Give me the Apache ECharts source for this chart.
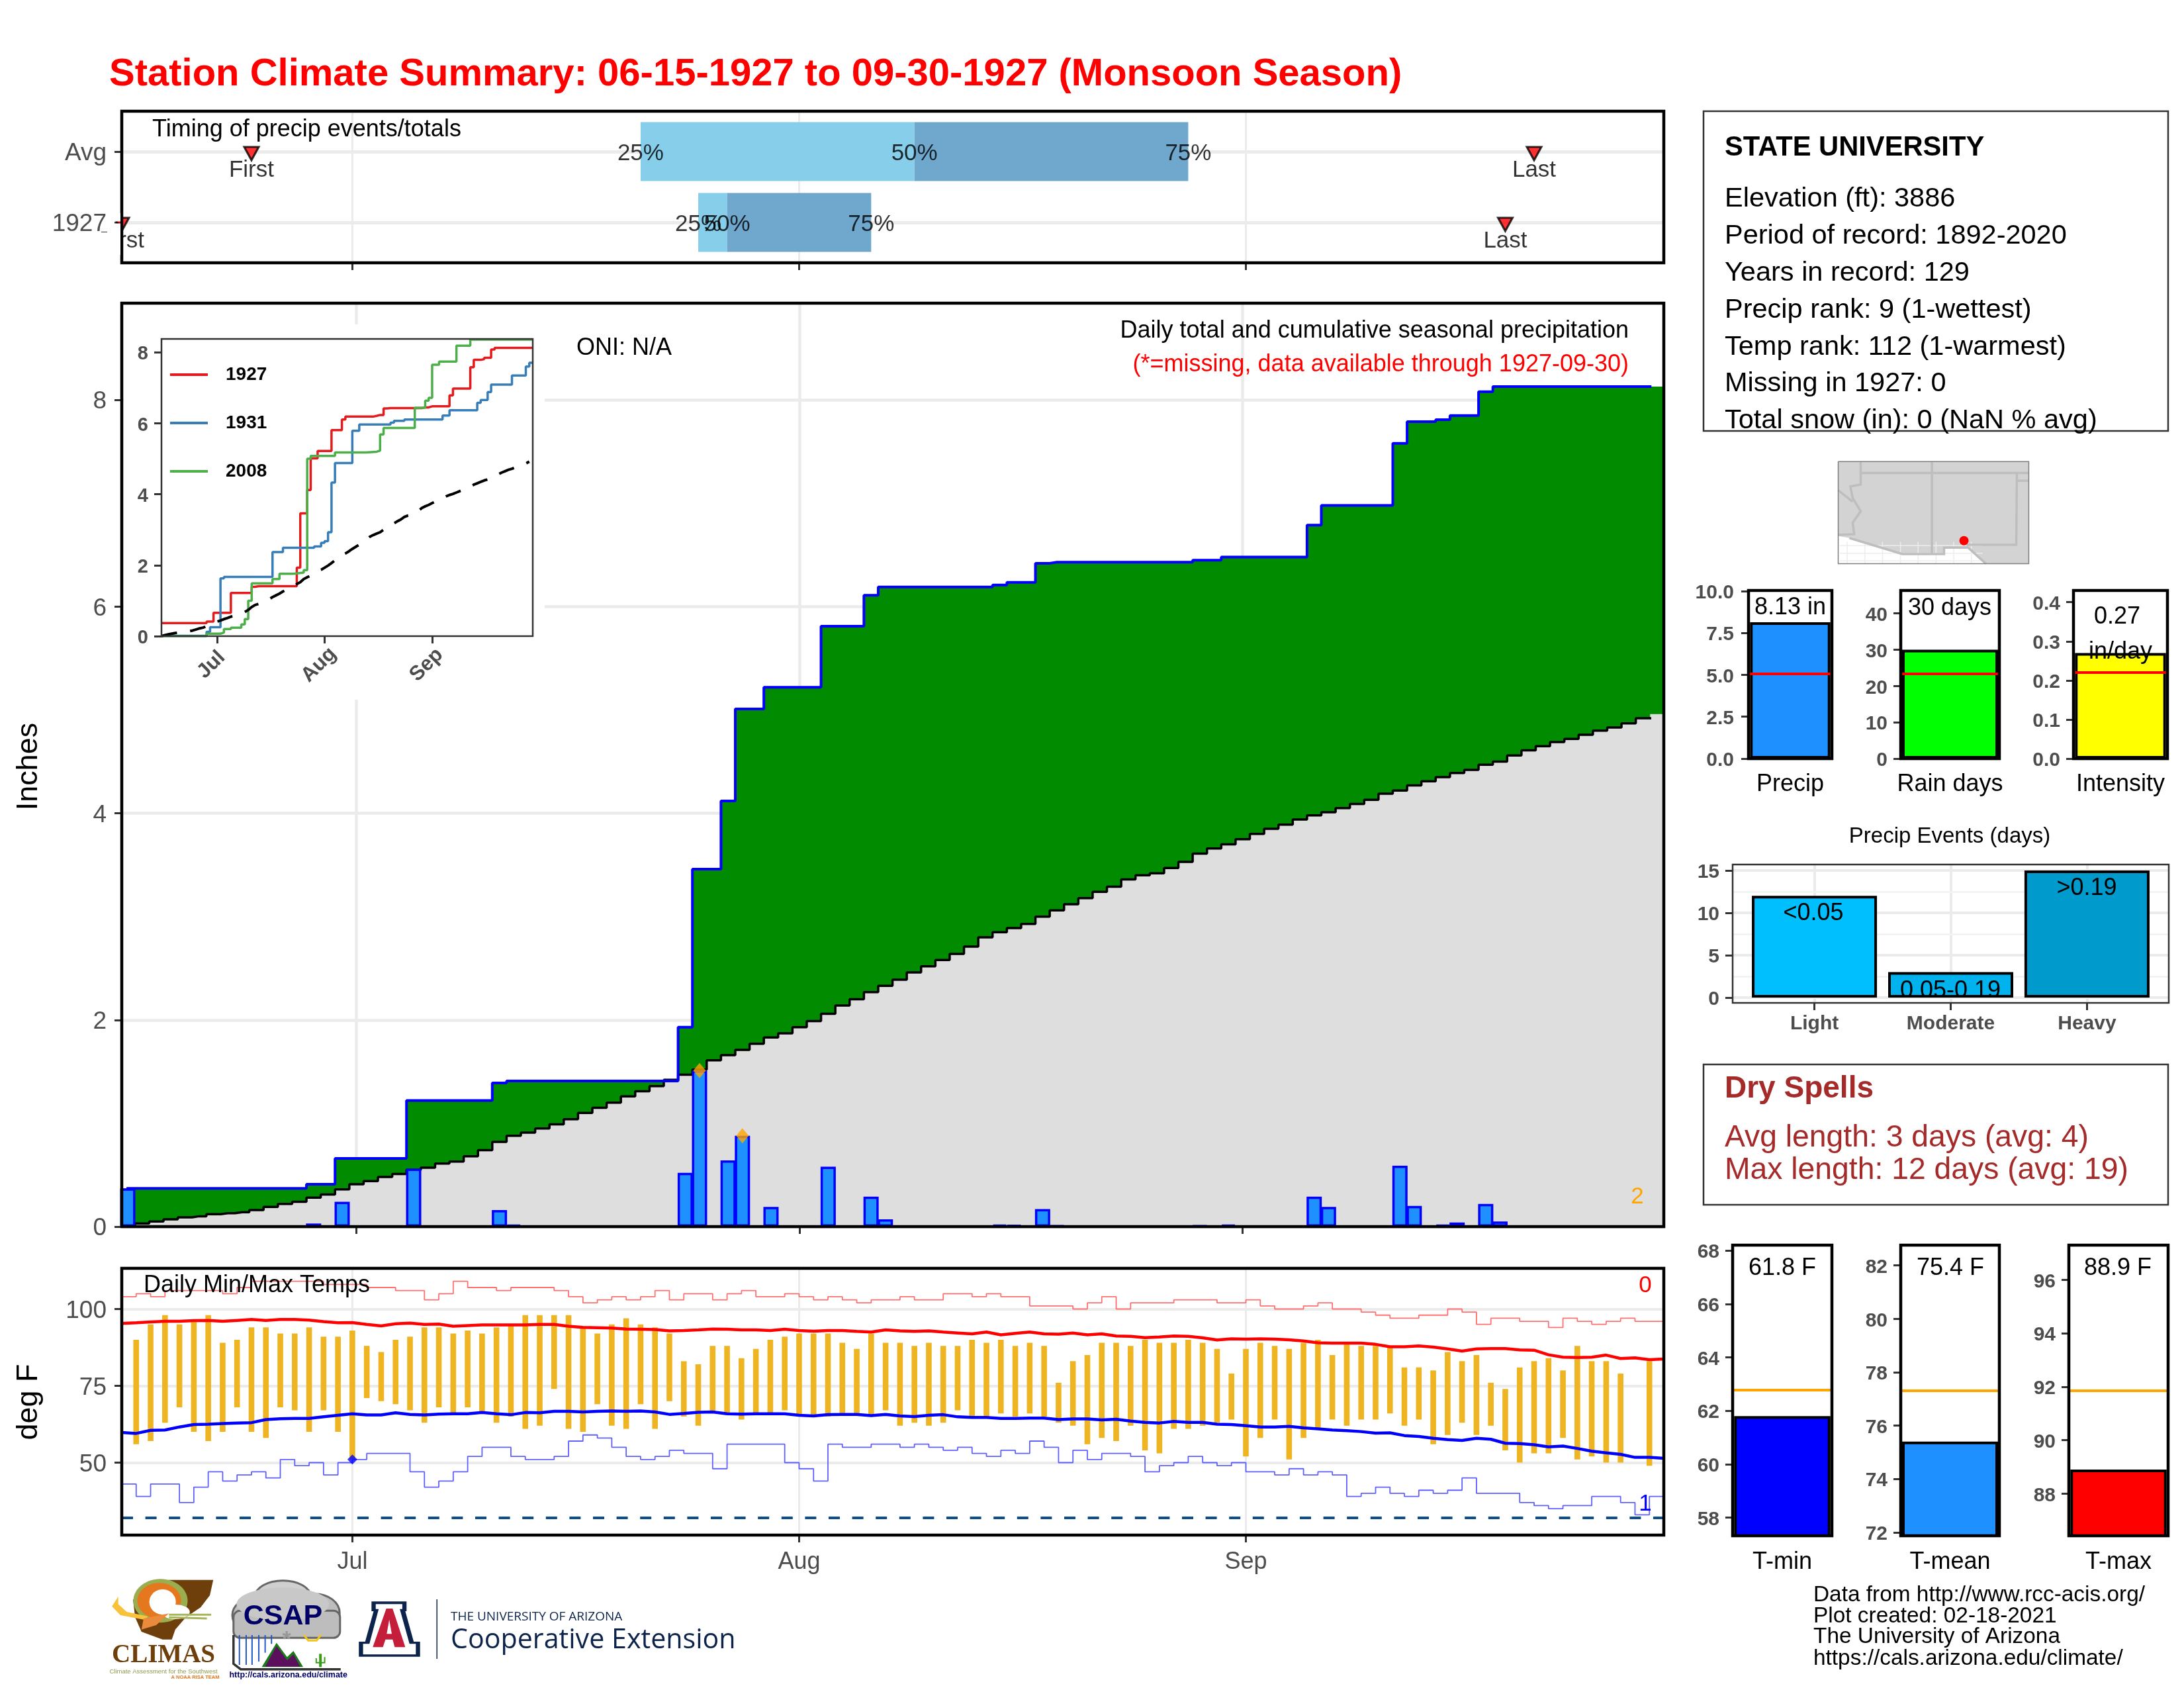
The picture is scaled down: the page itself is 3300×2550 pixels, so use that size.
<!DOCTYPE html>
<html>
<head>
<meta charset="utf-8">
<title>Station Climate Summary</title>
<style>html,body{margin:0;padding:0;background:#fff}#chart{width:3300px;height:2550px}</style>
<script src="https://cdn.jsdelivr.net/npm/echarts@6/dist/echarts.min.js"></script>
</head>
<body>
<div id="chart"></div>
<script>
// day index: 0 = Jun 15, 107 = Sep 30
const monthDays = [16, 47, 78];
const monthNames = ['Jul', 'Aug', 'Sep'];

const cumPrecip = [
  .37,.37,.37,.37,.37,.37,.37,.37,.37,.37,.37,.37,.37,.41,.41,.66,.66,.66,.66,.66,
  1.22,1.22,1.22,1.22,1.22,1.22,1.39,1.41,1.41,1.41,1.41,1.41,1.41,1.41,1.41,1.41,1.41,1.41,1.41,1.93,
  3.46,3.46,4.12,5.01,5.01,5.22,5.22,5.22,5.22,5.81,5.81,5.81,6.11,6.19,6.19,6.19,6.19,6.19,6.19,6.19,
  6.19,6.21,6.235,6.235,6.42,6.43,6.43,6.43,6.43,6.43,6.43,6.43,6.43,6.43,6.43,6.45,6.45,6.48,6.48,6.48,
  6.48,6.48,6.48,6.79,6.98,6.98,6.98,6.98,6.98,7.58,7.79,7.79,7.81,7.85,7.85,8.08,8.13,8.13,8.13,8.13,
  8.13,8.13,8.13,8.13,8.13,8.13,8.13,8.13
];
const normalPrecip = [
  0,.03,.05,.07,.09,.10,.12,.13,.14,.16,.19,.22,.24,.28,.31,.36,.41,.44,.48,.51,
  .55,.57,.61,.63,.68,.74,.82,.88,.91,.95,.99,1.04,1.10,1.15,1.20,1.26,1.31,1.36,1.42,1.47,
  1.52,1.61,1.66,1.71,1.77,1.83,1.87,1.93,1.99,2.06,2.14,2.20,2.27,2.33,2.39,2.46,2.52,2.58,2.64,2.71,
  2.80,2.85,2.89,2.93,3.00,3.06,3.12,3.18,3.24,3.29,3.36,3.40,3.42,3.47,3.53,3.61,3.66,3.70,3.75,3.80,
  3.85,3.89,3.94,3.98,4.01,4.05,4.09,4.13,4.19,4.22,4.27,4.31,4.35,4.39,4.42,4.47,4.50,4.56,4.61,4.65,
  4.69,4.72,4.76,4.80,4.83,4.87,4.92,4.96
];
const rainDays = [0,13,15,20,26,27,39,40,42,43,45,49,52,53,61,62,64,65,75,77,83,84,89,90,92,93,95,96];
const rainAmounts = [.37,.03,.24,.56,.16,.02,.52,1.51,.64,.88,.19,.58,.29,.07,.02,.015,.17,.01,.01,.02,.29,.19,.59,.2,.02,.04,.22,.05];
const recordRainDays = [40, 43];
const recordRainAmounts = [1.51, .88];

// change points of the other two years in the inset, [day, inches]
const steps1931 = [[0,.01],[13,.12],[14,.25],[17,1.63],[18,1.67],[32,2.37],[35,2.49],[44,2.53],[46,2.63],[47,2.68],[48,2.93],[49,4.33],[50,4.88],[55,5.79],[57,5.97],[66,6.02],[67,6.07],[70,6.11],[81,6.22],[83,6.37],[91,6.58],[92,6.66],[94,6.88],[95,7.09],[101,7.35],[105,7.6],[106,7.71],[107,7.71]];
const steps2008 = [[0,0],[13,.07],[17,.1],[18,.2],[20,.24],[23,.33],[24,.48],[25,1.0],[26,1.49],[32,1.61],[34,1.76],[38,1.79],[41,1.86],[42,5.0],[43,5.08],[50,5.18],[59,5.2],[62,5.23],[63,5.69],[64,5.87],[73,6.44],[76,6.64],[77,6.72],[78,7.65],[80,7.74],[85,8.19],[89,8.36],[107,8.36]];

const tempHigh = [
  null,90,95,98,95,96,98,89,90,94,94,92,92,94,91,91,93,88,86,90,
  91,94,94,92,93,92,94,95,98,98,98,98,94,92,95,97,95,94,92,83,
  82,88,88,84,87,90,91,92,92,92,89,87,92,89,89,88,89,88,88,90,
  89,90,88,89,88,76,83,85,89,89,88,90,89,89,90,89,87,79,87,89,
  88,87,89,90,85,89,88,88,88,81,81,80,86,83,85,76,74,81,83,84,
  80,88,83,83,79,null,83,null
];
const tempLow = [
  null,56,57,63,68,60,57,60,68,60,58,68,67,60,67,60,51,71,70,69,
  67,63,68,66,68,66,63,65,61,62,74,61,60,69,62,61,69,61,70,65,
  62,66,66,64,66,66,67,65,65,65,66,66,65,67,62,63,62,63,67,65,
  65,66,65,66,65,63,62,56,58,57,62,54,53,61,61,62,63,64,52,58,
  64,51,58,61,64,62,64,64,66,62,64,56,59,63,59,62,54,50,53,53,
  58,51,52,50,50,null,49,null
];
const recordHigh = [
  104,105,104,106,106,106,106,105,107,109,109,109,109,109,108,108,108,107,107,106,
  106,103,105,109,107,107,106,107,107,107,106,104,102,103,104,103,104,106,103,105,
  105,103,105,106,104,104,105,104,103,104,103,102,103,103,104,103,103,105,105,104,
  105,104,104,101,101,101,100,102,104,100,102,102,102,103,103,103,102,102,103,101,
  100,100,101,102,100,100,99,98,97,97,98,98,100,99,95,97,97,96,96,94,
  97,96,95,96,97,96,96,96
];
const recordLow = [
  43,39,43,43,37,42,47,44,46,47,45,51,49,50,46,50,51,53,53,53,
  47,42,44,47,52,55,55,52,51,51,52,57,59,58,55,52,51,52,54,53,
  53,48,56,56,56,56,50,48,44,56,55,55,56,56,55,56,55,54,55,53,
  52,54,53,57,55,50,54,51,53,53,52,47,49,50,52,50,49,50,47,47,
  46,48,46,47,46,39,40,42,40,39,41,40,41,45,40,40,40,37,36,35,
  36,36,39,39,37,33,39,39
];
const avgHigh = [
  95.3,95.5,95.8,96.0,96.0,96.2,96.3,96.0,96.3,96.6,96.3,96.6,96.6,96.4,95.9,95.5,95.6,95.0,94.5,95.2,
  95.4,95.0,95.1,94.4,94.6,94.8,94.8,94.8,94.8,95.0,95.0,94.4,94.0,93.9,93.8,93.5,93.4,93.3,92.9,93.0,
  93.2,93.5,93.4,93.2,93.2,93.0,93.4,93.0,92.8,93.0,93.0,92.7,92.5,93.2,92.9,92.7,92.9,92.5,92.2,91.9,
  92.5,91.6,92.1,92.5,91.9,91.8,92.2,91.6,91.9,91.2,91.1,90.7,90.9,91.2,91.1,90.6,89.9,90.3,90.2,90.3,
  90.2,90.0,89.6,89.0,88.9,88.9,88.9,88.5,87.7,87.7,88.0,87.6,87.0,86.3,87.0,87.1,87.1,86.7,86.6,85.1,
  84.3,84.2,84.3,85.0,83.9,84.1,83.5,83.7
];
const avgLow = [
  59.8,59.5,60.5,60.6,61.6,62.4,62.5,62.7,62.9,63.0,64.0,64.3,64.4,64.4,64.9,65.4,65.9,65.5,65.5,66.2,
  65.7,65.5,65.8,65.9,65.9,66.3,65.9,65.6,66.3,66.2,66.7,66.7,66.5,66.7,66.8,66.7,66.8,66.5,65.7,66.0,
  66.4,66.5,65.9,65.8,65.9,65.9,65.9,65.4,65.2,65.6,65.7,65.7,65.3,65.7,65.2,65.0,65.4,65.6,64.9,64.7,
  64.7,64.4,64.4,64.5,64.5,64.0,64.2,64.2,63.9,64.1,63.5,63.1,62.9,63.4,63.1,63.1,62.5,62.4,62.0,61.6,
  61.6,61.8,61.3,61.0,60.6,60.4,60.1,59.6,59.7,58.8,58.5,57.9,57.5,57.2,57.9,57.6,56.3,56.2,55.8,55.1,
  55.4,54.6,53.7,53.2,52.7,51.7,51.7,51.4
];

// quartile timing rows: row 1 = Avg, row 0 = 1927
const rowNames = ['1927', 'Avg'];
const quartiles1927 = [40, 42, 52];
const quartilesAvg = [36, 55, 74];
const firstLast1927 = [0, 96];
const firstLastAvg = [9, 98];

const precipSummary = {value: 8.13, normal: 5.08};
const rainSummary = {value: 30, normal: 23.4};
const intensitySummary = {value: 0.27, normal: 0.217};
const eventNames = ['Light', 'Moderate', 'Heavy'];
const eventCounts = [12, 3, 15];
const eventColors = ['#00BFFF', '#00B2EE', '#009ACD'];
const tMinSummary = {value: 61.8, normal: 62.77};
const tMeanSummary = {value: 75.4, normal: 77.32};
const tMaxSummary = {value: 88.9, normal: 91.86};

const FONT = '"Liberation Sans"';
const GREY = '#4D4D4D';
const GRIDC = '#EBEBEB';

const grids = [], xAxes = [], yAxes = [], series = [], graphics = [];

function axis(min, max, ticks, o) {
  o = o || {};
  const label = {
    show: o.labels !== false, customValues: ticks, fontSize: o.size || 37, color: GREY,
    fontWeight: o.weight || 'normal', margin: o.margin || 23, formatter: o.formatter,
    rotate: o.rotate || 0
  };
  if (o.label) Object.assign(label, o.label);
  return {
    type: 'value', min: min, max: max, z: o.z || 0,
    axisLine: {show: false, onZero: false},
    axisTick: {show: true, length: 11, lineStyle: {color: '#333', width: 3}, customValues: ticks},
    axisLabel: label,
    splitLine: {show: !!o.grid, lineStyle: {color: GRIDC, width: o.grid || 3}}
  };
}
// y tick labels sit about 3px under the tick; top alignment plus negative padding does that
function yLabel(size) {
  return {verticalAlign: 'top', padding: [3 - size / 2, 0, 0, 0]};
}

function panel(x, y, w, h, xa, ya, border) {
  border = border || {};
  grids.push({
    show: true, left: x, top: y, width: w, height: h, outerBoundsMode: 'none',
    backgroundColor: 'transparent', borderColor: border.color || '#000',
    borderWidth: border.width || 4.5, z: 10
  });
  const i = grids.length - 1;
  xa.gridIndex = i; ya.gridIndex = i;
  xAxes.push(xa); yAxes.push(ya);
  return i;
}

function add(i, s) { s.xAxisIndex = i; s.yAxisIndex = i; series.push(s); }

function text(x, y, str, size, o) {
  o = o || {};
  graphics.push({
    type: 'text', x: x, y: y + 3, rotation: o.rotation || 0, z: o.z || 20, silent: true,
    style: {
      text: str, fill: o.color || '#000', align: o.align || 'left', verticalAlign: 'middle',
      font: (o.weight || 'normal') + ' ' + size + 'px ' + (o.family || FONT)
    }
  });
}

function whiteRect(x, y, w, h, z) {
  graphics.push({type: 'rect', shape: {x: x, y: y, width: w, height: h}, style: {fill: '#fff'}, z: z, silent: true});
}

const monthLabel = v => monthNames[monthDays.indexOf(v)];
const pairs = arr => arr.map((v, d) => [d, v]);

/* ---------- timing panel ---------- */
const topIdx = panel(184, 168, 2330, 229,
  axis(0, 107, monthDays, {labels: false, grid: 3}),
  axis(-0.57, 1.57, [0, 1], {grid: 5, label: yLabel(37), formatter: v => rowNames[v]}));

function quartileBars(q, row) {
  return [[q[0], q[1], row], [q[1], q[2], row]];
}
add(topIdx, {
  type: 'custom', silent: true,
  data: quartileBars(quartilesAvg, 1).concat(quartileBars(quartiles1927, 0)),
  renderItem(params, api) {
    const a = api.coord([api.value(0), api.value(2) + 0.415]);
    const b = api.coord([api.value(1), api.value(2) - 0.415]);
    return {type: 'rect', shape: {x: a[0], y: a[1], width: b[0] - a[0], height: b[1] - a[1]},
      style: {fill: params.dataIndex % 2 ? '#6FA7CD' : '#87CEEB'}};
  }
});
add(topIdx, {
  type: 'scatter', symbol: 'triangle', symbolRotate: 180, symbolSize: [22, 20], symbolOffset: [0, 3], z: 3,
  itemStyle: {color: '#FF0000', borderColor: '#000', borderWidth: 3},
  data: [[firstLastAvg[0], 1], [firstLastAvg[1], 1], [firstLast1927[0], 0], [firstLast1927[1], 0]]
});
function rowLabels(dayList, row, names, dy) {
  return dayList.map((d, i) => ({value: [d, row], label: {formatter: names[i], offset: [0, dy]}}));
}
add(topIdx, {
  type: 'scatter', symbolSize: 1, z: 4, itemStyle: {color: 'transparent'},
  label: {show: true, position: 'inside', fontSize: 35, color: '#000'},
  data: rowLabels(quartilesAvg, 1, ['25%', '50%', '75%'], 3)
    .concat(rowLabels(quartiles1927, 0, ['25%', '50%', '75%'], 3))
    .concat(rowLabels(firstLastAvg, 1, ['First', 'Last'], 28))
    .concat(rowLabels(firstLast1927, 0, ['First', 'Last'], 28))
});
// the plot clips the 1927 First marker and label at the panel edge
whiteRect(162, 322, 20, 12.5, 12);
whiteRect(162, 337.5, 20, 13.5, 12);
whiteRect(135, 351, 47, 34, 12);
text(230, 193, 'Timing of precip events/totals', 36);

/* ---------- main precip panel ---------- */
const MAIN_XMIN = -0.42, MAIN_XMAX = 107.46;
const mainIdx = panel(184, 458, 2330, 1395,
  axis(MAIN_XMIN, MAIN_XMAX, monthDays, {labels: false, grid: 4.5}),
  axis(0, 8.937, [0, 2, 4, 6, 8], {grid: 4.5, label: yLabel(37)}));

function areaData(arr) {
  return [[MAIN_XMIN, arr[0]]].concat(pairs(arr), [[MAIN_XMAX, arr[arr.length - 1]]]);
}
function lineData(arr) {
  return pairs(arr).slice(0, 107).concat([[106.5, arr[106]]]);
}
add(mainIdx, {type: 'line', step: 'middle', showSymbol: false, silent: true, z: 2, lineStyle: {width: 0},
  areaStyle: {color: '#008B00', opacity: 1}, data: areaData(cumPrecip)});
add(mainIdx, {type: 'line', step: 'middle', showSymbol: false, silent: true, z: 2, lineStyle: {width: 0},
  areaStyle: {color: '#DEDEDE', opacity: 1}, data: areaData(normalPrecip)});
add(mainIdx, {type: 'line', step: 'middle', showSymbol: false, silent: true, z: 3,
  lineStyle: {color: '#000', width: 3.5, cap: 'square'}, data: lineData(normalPrecip)});
add(mainIdx, {type: 'line', step: 'middle', showSymbol: false, silent: true, z: 3,
  lineStyle: {color: '#0000FF', width: 4, cap: 'square'}, data: lineData(cumPrecip)});
add(mainIdx, {type: 'bar', barWidth: 23, silent: true, z: 4,
  itemStyle: {color: '#1E90FF', borderColor: '#0000FF', borderWidth: 3.5},
  data: rainDays.map((d, i) => [d, rainAmounts[i]])});
add(mainIdx, {type: 'scatter', symbol: 'diamond', symbolSize: [19, 23], z: 5, silent: true,
  itemStyle: {color: '#FFA500'}, data: recordRainDays.map((d, i) => [d, recordRainAmounts[i]])});

text(44, 1155, 'Inches', 45, {rotation: Math.PI / 2, align: 'center'});
text(871, 523, 'ONI: N/A', 36);
text(2461, 497, 'Daily total and cumulative seasonal precipitation', 36, {align: 'right'});
text(2461, 548, '(*=missing, data available through 1927-09-30)', 36, {align: 'right', color: '#FF0000'});
text(2474, 1805, '2', 35, {color: '#FFA500', align: 'center'});

/* ---------- inset ---------- */
// the inset sits on a white plate that hides the main grid lines
whiteRect(187, 490, 636, 567, 1);
const insetIdx = panel(244, 512, 561, 449,
  axis(0, 107, monthDays, {size: 31, weight: 'bold', rotate: 45, z: 3, margin: 35, formatter: monthLabel,
    label: {align: 'center', verticalAlign: 'middle', padding: [0, 24, 0, 0]}}),
  axis(0, 8.38, [0, 2, 4, 6, 8], {size: 29, weight: 'bold', z: 3, margin: 20, label: yLabel(29)}),
  {color: '#333', width: 2.5});
function insetLine(name, color, data) {
  add(insetIdx, {type: 'line', name: name, step: 'end', showSymbol: false, silent: true, z: 4,
    itemStyle: {color: color}, lineStyle: {color: color, width: 3.5}, data: data});
}
insetLine('1927', '#E41A1C', pairs(cumPrecip));
insetLine('1931', '#377EB8', steps1931);
insetLine('2008', '#4DAF4A', steps2008);
add(insetIdx, {type: 'line', showSymbol: false, silent: true, z: 5,
  lineStyle: {color: '#000', width: 4, type: [24, 20]}, data: pairs(normalPrecip).slice(0, 107)});

/* ---------- daily temps ---------- */
const tempIdx = panel(184, 1916, 2330, 403,
  axis(0, 107, monthDays, {grid: 3, size: 36, margin: 23, formatter: monthLabel}),
  axis(26.4, 113.25, [50, 75, 100], {grid: 4, label: yLabel(37)}));
add(tempIdx, {
  type: 'custom', silent: true, z: 2,
  data: tempHigh.map((v, d) => [d, tempLow[d], v]).filter(r => r[2] !== null),
  renderItem(params, api) {
    const hi = api.coord([api.value(0), api.value(2)]);
    const lo = api.coord([api.value(0), api.value(1)]);
    return {type: 'rect', shape: {x: hi[0] - 4.3, y: hi[1], width: 8.6, height: lo[1] - hi[1]}, style: {fill: '#EEB422'}};
  }
});
add(tempIdx, {type: 'line', step: 'end', showSymbol: false, silent: true, z: 3, lineStyle: {color: '#FF7070', width: 1.8}, data: pairs(recordHigh)});
add(tempIdx, {type: 'line', step: 'end', showSymbol: false, silent: true, z: 3, lineStyle: {color: '#6060FF', width: 1.8}, data: pairs(recordLow)});
add(tempIdx, {type: 'line', showSymbol: false, silent: true, z: 4, lineStyle: {color: '#FF0000', width: 4.5}, data: pairs(avgHigh)});
add(tempIdx, {type: 'line', showSymbol: false, silent: true, z: 4, lineStyle: {color: '#0000FF', width: 4.5}, data: pairs(avgLow),
  markLine: {silent: true, symbol: 'none', label: {show: false}, z: 3,
    lineStyle: {color: '#104E8B', width: 4, type: [17, 18.6]}, data: [{yAxis: 32}]}});
add(tempIdx, {type: 'scatter', symbol: 'diamond', symbolSize: [15, 15], z: 5, silent: true, itemStyle: {color: '#0000FF'}, data: [[16, 51]]});
text(217, 1939, 'Daily Min/Max Temps', 36);
text(2486, 1939, '0', 35, {color: '#FF0000', align: 'center'});
text(2486, 2269, '1', 35, {color: '#0000FF', align: 'center'});
text(44, 2115, 'deg F', 45, {rotation: Math.PI / 2, align: 'center'});

/* ---------- small summary bars ---------- */
function summaryBar(o) {
  const i = panel(o.x, o.y, o.w, o.h,
    {type: 'category', data: [o.name], axisLine: {show: false, onZero: false}, axisTick: {show: false},
      axisLabel: {fontSize: 36, color: '#000', margin: o.nameMargin}, splitLine: {show: false}},
    axis(o.min, o.max, o.ticks, {size: 30, weight: 'bold', margin: o.tickMargin || 20, label: yLabel(30), formatter: o.formatter}));
  add(i, {type: 'bar', barWidth: o.barWidth, silent: true,
    itemStyle: {color: o.color, borderColor: '#000', borderWidth: 4},
    data: [o.summary.value],
    markLine: {silent: true, symbol: 'none', label: {show: false}, animation: false,
      lineStyle: {color: o.lineColor, width: 4, type: 'solid'}, data: [{yAxis: o.summary.normal}]}});
}
const barRow = {y: 892, h: 254, nameMargin: 21, lineColor: '#FF0000'};
summaryBar(Object.assign({}, barRow, {x: 2642, w: 126, name: 'Precip', min: 0, max: 10.03, ticks: [0, 2.5, 5, 7.5, 10],
  formatter: v => v.toFixed(1), tickMargin: 22, barWidth: 121.5, color: '#1E90FF', summary: precipSummary}));
summaryBar(Object.assign({}, barRow, {x: 2872, w: 149, name: 'Rain days', min: 0, max: 46.3, ticks: [0, 10, 20, 30, 40],
  barWidth: 145, color: '#00FF00', summary: rainSummary}));
summaryBar(Object.assign({}, barRow, {x: 3133, w: 142, name: 'Intensity', min: 0, max: 0.43, ticks: [0, .1, .2, .3, .4],
  formatter: v => v.toFixed(1), barWidth: 137.5, color: '#FFFF00', summary: intensitySummary}));
text(2705, 915, '8.13 in', 36, {align: 'center'});
text(2946, 916, '30 days', 36, {align: 'center'});
text(3199, 929, '0.27', 36, {align: 'center'});
text(3204, 982, 'in/day', 36, {align: 'center'});

const tempRow = {y: 1881, h: 439, nameMargin: 22, lineColor: '#FFA500'};
summaryBar(Object.assign({}, tempRow, {x: 2618, w: 150, name: 'T-min', min: 57.32, max: 68.2, ticks: [58, 60, 62, 64, 66, 68],
  barWidth: 145.5, color: '#0000FF', summary: tMinSummary}));
summaryBar(Object.assign({}, tempRow, {x: 2872, w: 149, name: 'T-mean', min: 71.87, max: 82.76, ticks: [72, 74, 76, 78, 80, 82],
  barWidth: 145, color: '#1E90FF', summary: tMeanSummary}));
summaryBar(Object.assign({}, tempRow, {x: 3126, w: 150, name: 'T-max', min: 86.42, max: 97.3, ticks: [88, 90, 92, 94, 96],
  barWidth: 145.5, color: '#FF0000', summary: tMaxSummary}));
text(2693, 1913, '61.8 F', 36, {align: 'center'});
text(2947, 1913, '75.4 F', 36, {align: 'center'});
text(3200, 1913, '88.9 F', 36, {align: 'center'});

/* ---------- precip events ---------- */
const evIdx = panel(2618, 1306, 659, 209,
  axis(0.4, 3.6, [1, 2, 3], {size: 30, weight: 'bold', grid: 4, margin: 17, formatter: v => eventNames[v - 1]}),
  axis(-0.63, 15.7, [0, 5, 10, 15], {size: 30, weight: 'bold', grid: 4, margin: 20, label: yLabel(30)}),
  {color: '#333', width: 2.5});
add(evIdx, {type: 'line', data: [], silent: true, z: 1,
  markLine: {silent: true, symbol: 'none', z: 1, label: {show: false},
    lineStyle: {color: '#F2F2F2', width: 2.5, type: 'solid'},
    data: [2.5, 7.5, 12.5].map(v => ({yAxis: v}))}});
add(evIdx, {type: 'bar', barWidth: 189, silent: true, z: 2,
  itemStyle: {borderColor: '#000', borderWidth: 4},
  data: eventCounts.map((v, i) => ({value: [i + 1, v], itemStyle: {color: eventColors[i]}}))});
text(2946, 1261, 'Precip Events (days)', 33, {align: 'center'});
text(2740, 1377, '<0.05', 36, {align: 'center'});
text(2947, 1494, '0.05-0.19', 36, {align: 'center'});
text(3153, 1339, '>0.19', 36, {align: 'center'});

/* ---------- text boxes ---------- */
function box(x, y, w, h) {
  graphics.push({type: 'rect', shape: {x: x, y: y, width: w, height: h}, z: 19, silent: true,
    style: {fill: 'none', stroke: '#333', lineWidth: 2.5}});
}
box(2574, 168, 702, 483);
text(2606, 221, 'STATE UNIVERSITY', 41.7, {weight: 'bold'});
['Elevation (ft): 3886', 'Period of record: 1892-2020', 'Years in record: 129', 'Precip rank: 9 (1-wettest)',
  'Temp rank: 112 (1-warmest)', 'Missing in 1927: 0', 'Total snow (in): 0 (NaN % avg)']
  .forEach((s, i) => text(2606, 298 + i * 55.8, s, 41.5));
box(2574, 1608, 702, 212);
text(2606, 1642, 'Dry Spells', 46, {weight: 'bold', color: '#A52A2A'});
text(2606, 1716, 'Avg length: 3 days (avg: 4)', 46.3, {color: '#A52A2A'});
text(2606, 1765, 'Max length: 12 days (avg: 19)', 46.3, {color: '#A52A2A'});

text(2740, 2407, 'Data from http://www.rcc-acis.org/', 33.4);
text(2740, 2439, 'Plot created: 02-18-2021', 33.4);
text(2740, 2470, 'The University of Arizona', 33.4);
text(2740, 2503, 'https://cals.arizona.edu/climate/', 33.4);

text(165, 110, 'Station Climate Summary: 06-15-1927 to 09-30-1927 (Monsoon Season)', 58, {weight: 'bold', color: '#FF0000'});

/* ---------- locator map (picture, not data) ---------- */
function mapPt(p) { return [2540 + p[0] / 2.063, 680 + p[1] / 1.733]; }
function mapShape(pts, fill, stroke, width) {
  graphics.push({type: fill ? 'polygon' : 'polyline', shape: {points: pts.map(mapPt)}, z: 5, silent: true,
    style: {fill: fill || 'none', stroke: stroke || 'none', lineWidth: width || 3}});
}
mapShape([[490, 30], [1084, 30], [1084, 297], [490, 297]], '#D3D3D3');
mapShape([[490, 225], [525, 230], [690, 272], [820, 272], [820, 255], [895, 255], [950, 297], [490, 297]], '#FFFFFF');
[518, 573, 628, 684, 739, 795, 850, 905].forEach(x => mapShape([[x, 240], [x, 297]], null, '#EDEDED', 1.5));
[250, 270, 290].forEach(y => mapShape([[495, y], [940, y]], null, '#EDEDED', 1.5));
const mapLines = [
  [[560, 30], [560, 90], [528, 95], [535, 125], [560, 160], [535, 190], [540, 220], [490, 222]],
  [[490, 105], [535, 135]],
  [[560, 60], [1084, 60]],
  [[782, 30], [782, 272]],
  [[1047, 60], [1045, 248], [890, 248]],
  [[1047, 80], [1084, 80]],
  [[525, 230], [690, 272], [820, 272], [820, 255], [895, 255], [950, 297]]
];
mapLines.forEach(l => mapShape(l, null, '#BEBEBE', 3.5));
mapShape([[490, 30], [1084, 30], [1084, 297], [490, 297], [490, 30]], null, '#7F7F7F', 1.5);
graphics.push({type: 'circle', shape: {cx: mapPt([882, 237])[0], cy: mapPt([882, 237])[1], r: 7}, style: {fill: '#FF0000'}, z: 6, silent: true});

/* ---------- logos (picture, not data) ---------- */
function lx(v) { return 150 + v / 1.568; }
function ly(v) { return 2340 + v / 3; }
function logoPts(pts) { return pts.map(p => [lx(p[0]), ly(p[1])]); }
function logoPoly(pts, fill) {
  graphics.push({type: 'polygon', shape: {points: logoPts(pts)}, style: {fill: fill}, z: 6, silent: true});
}
function logoLine(pts, color, width) {
  graphics.push({type: 'polyline', shape: {points: logoPts(pts)}, style: {fill: 'none', stroke: color, lineWidth: width}, z: 7, silent: true});
}
function logoEllipse(cx, cy, rx, ry, fill, stroke) {
  graphics.push({type: 'ellipse', shape: {cx: lx(cx), cy: ly(cy), rx: rx, ry: ry}, z: 6, silent: true,
    style: {fill: fill, stroke: stroke || 'none', lineWidth: 3}});
}
// CLIMAS
logoPoly([[165, 140], [270, 140], [262, 210], [240, 265], [205, 310], [180, 365], [172, 410], [150, 410], [100, 375], [85, 310], [80, 230], [115, 165]], '#6E3F0A');
logoEllipse(145, 235, 41, 33, '#9BAE4F');
logoEllipse(142, 235, 33, 27, '#E5771E');
logoEllipse(150, 240, 20, 19, '#FFFFFF');
logoEllipse(180, 285, 22, 11, '#FFFFFF');
logoPoly([[45, 215], [30, 260], [50, 300], [110, 322], [115, 305], [65, 285], [45, 250]], '#F8C33A');
logoPoly([[105, 315], [165, 292], [135, 345], [100, 365]], '#E98A3C');
logoLine([[165, 298], [265, 298]], '#A7B65A', 3);
logoLine([[165, 310], [255, 315]], '#A7B65A', 3);
text(247, 2498, 'CLIMAS', 39, {family: '"Liberation Serif"', weight: 'bold', color: '#6E3F0A', align: 'center'});
text(247, 2522, 'Climate Assessment for the Southwest', 9.5, {color: '#8C9A4A', align: 'center'});
text(295, 2531, 'A NOAA RISA TEAM', 7.5, {color: '#E5771E', align: 'center', weight: 'bold'});
// CSAP
logoEllipse(435, 215, 42, 24, '#CFCFCF', '#666');
logoEllipse(370, 300, 35, 27, '#BDBDBD', '#666');
logoEllipse(510, 290, 38, 29, '#BDBDBD', '#666');
graphics.push({type: 'rect', shape: {x: lx(318), y: ly(280), width: 161, height: 41, r: 10}, style: {fill: '#BDBDBD', stroke: '#666', lineWidth: 3}, z: 6, silent: true});
logoEllipse(435, 250, 70, 25, '#C8C8C8');
text(lx(435), ly(298), 'CSAP', 43, {weight: 'bold', color: '#000066', align: 'center'});
[[332, 525], [348, 525], [362, 525], [378, 510], [393, 470], [408, 430]].forEach(l => logoLine([[l[0], 390], [l[0], l[1]]], '#2255CC', 2));
logoLine([[318, 390], [318, 520], [335, 545], [572, 545]], '#333', 3.5);
logoPoly([[385, 535], [420, 425], [445, 490], [460, 462], [483, 535]], '#1A7A1A');
logoPoly([[393, 533], [420, 440], [445, 505], [460, 478], [476, 533]], '#5C0F5C');
logoLine([[485, 390], [495, 415], [515, 415], [525, 390]], '#F5C518', 3);
text(lx(444), ly(405), '*', 34, {weight: 'bold', color: '#999', align: 'center'});
logoLine([[524, 535], [524, 475]], '#3A9A1A', 4);
logoLine([[514, 495], [514, 515], [534, 515], [534, 490]], '#3A9A1A', 2);
text(lx(448), 2528, 'http://cals.arizona.edu/climate', 12.5, {weight: 'bold', color: '#000066', align: 'center'});
// Arizona
logoPoly([[645, 238], [728, 238], [728, 282], [725, 282], [745, 420], [760, 420], [760, 488], [615, 488], [615, 420], [630, 420], [650, 282], [645, 282]], '#0C234B');
logoPoly([[655, 250], [718, 250], [718, 272], [712, 272], [735, 430], [750, 430], [750, 478], [625, 478], [625, 430], [640, 430], [662, 272], [655, 272]], '#FFFFFF');
logoPoly([[680, 270], [695, 270], [725, 445], [700, 445], [695, 410], [678, 410], [672, 445], [648, 445]], '#C41E3A');
logoPoly([[687, 320], [693, 385], [681, 385]], '#FFFFFF');
logoLine([[800, 228], [800, 498]], '#0C234B', 1.5);
text(681, 2440, 'THE UNIVERSITY OF ARIZONA', 19, {color: '#0C234B', family: '"Open Sans"'});
text(681, 2475, 'Cooperative Extension', 41.2, {color: '#0C234B', family: '"Open Sans"'});

const chart = echarts.init(document.getElementById('chart'));
chart.setOption({
  animation: false,
  backgroundColor: '#fff',
  textStyle: {fontFamily: FONT},
  grid: grids,
  xAxis: xAxes,
  yAxis: yAxes,
  series: series,
  legend: {
    data: ['1927', '1931', '2008'], orient: 'vertical', left: 257, top: 552, padding: 0, z: 6,
    icon: 'rect', itemWidth: 57, itemHeight: 4, itemGap: 45, selectedMode: false,
    textStyle: {fontSize: 28, fontWeight: 'bold', color: '#000', padding: [0, 0, 0, 22]}
  },
  graphic: graphics
});
</script>
</body>
</html>
